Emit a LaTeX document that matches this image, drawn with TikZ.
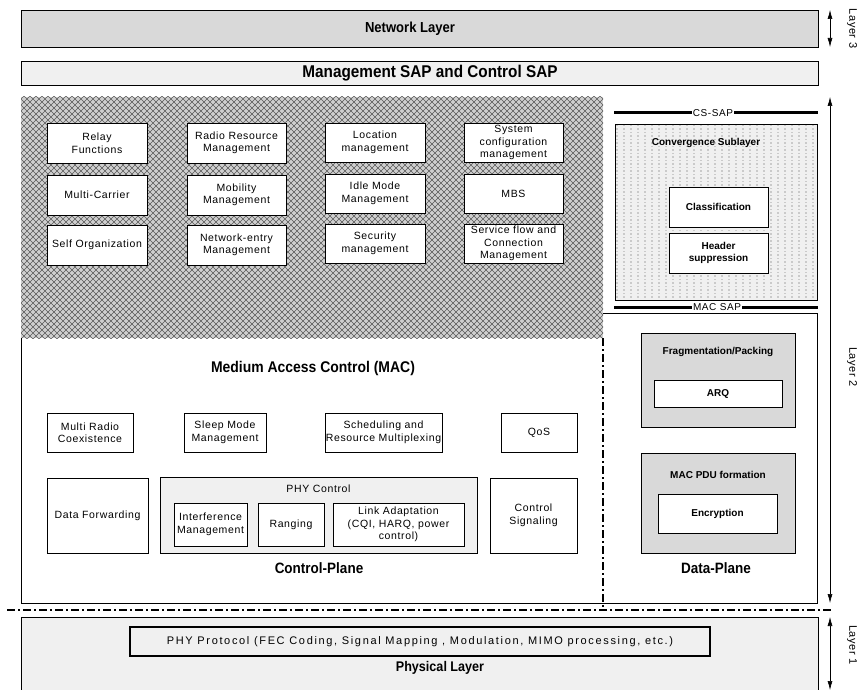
\documentclass[tikz,border=0pt]{standalone}
\usepackage{fontspec}
\setmainfont{Liberation Sans}
\newfontfamily\narrowfont{Liberation Sans}[FakeStretch=0.9]
\newfontfamily\widefont{Liberation Sans}[LetterSpace=6]
\newfontfamily\widerfont{Liberation Sans}[LetterSpace=15]
\usepackage{tikz}
\usetikzlibrary{arrows.meta,patterns}

\definecolor{boxgray}{HTML}{D9D9D9}
\definecolor{palegray}{HTML}{F0F0F0}
\definecolor{hatchgray}{HTML}{CFCFCF}

% diamond hatching of the management part, dots of the CS
\pgfdeclarepatternformonly{diamonds}{\pgfqpoint{-0.5pt}{-0.5pt}}{\pgfqpoint{6.5pt}{6.5pt}}{\pgfqpoint{6pt}{6pt}}{
  \pgfsetlinewidth{0.6pt}
  \pgfpathmoveto{\pgfqpoint{0pt}{0pt}}\pgfpathlineto{\pgfqpoint{6pt}{6pt}}
  \pgfpathmoveto{\pgfqpoint{0pt}{6pt}}\pgfpathlineto{\pgfqpoint{6pt}{0pt}}
  \pgfusepath{stroke}}
\pgfdeclarepatternformonly{csdots}{\pgfqpoint{-1pt}{-1pt}}{\pgfqpoint{8pt}{8pt}}{\pgfqpoint{7pt}{7pt}}{
  \pgfpathcircle{\pgfqpoint{1pt}{1pt}}{0.65pt}
  \pgfpathcircle{\pgfqpoint{1pt}{4.5pt}}{0.45pt}
  \pgfusepath{fill}}

\tikzset{
  func/.style={draw, fill=white, align=center, inner sep=0pt, line width=0.7pt,
    font=\widefont\fontsize{10.5}{12.5}\selectfont},
  strong/.style={draw, fill=white, align=center, inner sep=0pt, line width=0.7pt,
    font=\fontsize{10}{12}\selectfont\bfseries},
  band/.style={draw, inner sep=0pt, line width=0.8pt},
  title/.style={font=\narrowfont\fontsize{15}{17}\selectfont\bfseries},
  hatched/.style={preaction={fill=hatchgray}, pattern=diamonds, pattern color=black!65, inner sep=0pt},
  csbox/.style={draw, preaction={fill=palegray}, pattern=csdots, pattern color=black!70, inner sep=0pt, line width=0.7pt},
  saprule/.style={line width=3pt},
  saplabel/.style={fill=white, inner sep=1pt, font=\widefont\fontsize{10}{12}\selectfont},
  split/.style={line width=1.5pt, dash pattern=on 8pt off 3pt on 2pt off 3pt},
  layerarrow/.style={{Latex[length=9pt,width=5pt]}-{Latex[length=9pt,width=5pt]}, line width=0.6pt},
  layerlabel/.style={rotate=-90, font=\widefont\fontsize{11}{13}\selectfont}
}

\begin{document}
\begin{tikzpicture}[x=1pt,y=-1pt,line width=0.8pt]
\useasboundingbox (0,0) rectangle (860,690);

% Layer 3
\node[band, fill=boxgray, minimum width=797pt, minimum height=37pt] (net) at (419.5,28.5) {};
\node[title, font=\narrowfont\fontsize{14.5}{16}\selectfont\bfseries] (netlabel) at (410,28.5) {Network Layer};
\node[band, fill=palegray, minimum width=797pt, minimum height=24pt] (mgmtsap) at (419.5,73) {};
\node[title, font=\narrowfont\fontsize{17}{19}\selectfont\bfseries] (mgmtlabel) at (430,73) {Management SAP and Control SAP};

% management functions
\node[hatched, minimum width=582pt, minimum height=241pt] (mgmt) at (312,217.5) {};
\node[func, minimum width=100pt, minimum height=40pt] (relay) at (97,143) {Relay\\Functions};
\node[func, minimum width=100pt, minimum height=40pt] (carrier) at (97,195) {Multi-Carrier};
\node[func, minimum width=100pt, minimum height=40pt] (selforg) at (97,245) {Self Organization};
\node[func, minimum width=99pt, minimum height=40pt] (rrm) at (236.5,143) {Radio Resource\\Management};
\node[func, minimum width=99pt, minimum height=40pt] (mobility) at (236.5,195) {Mobility\\Management};
\node[func, minimum width=99pt, minimum height=40pt] (netentry) at (236.5,245) {Network-entry\\Management};
\node[func, minimum width=100pt, minimum height=39pt] (location) at (375,142.5) {Location\\management};
\node[func, minimum width=100pt, minimum height=39pt] (idle) at (375,193.5) {Idle Mode\\Management};
\node[func, minimum width=100pt, minimum height=39pt] (security) at (375,243.5) {Security\\management};
\node[func, minimum width=99pt, minimum height=39pt] (sysconf) at (513.5,142.5) {System\\configuration\\management};
\node[func, minimum width=99pt, minimum height=39pt] (mbs) at (513.5,193.5) {MBS};
\node[func, minimum width=99pt, minimum height=39pt] (sflow) at (513.5,243.5) {Service flow and\\Connection\\Management};

% convergence sublayer
\coordinate (cssapW) at (614,113);
\coordinate (cssapE) at (818,113);
\draw[saprule] (cssapW) -- (cssapE);
\node[saplabel] (cssap) at (713,113) {CS-SAP};
\node[csbox, minimum width=202pt, minimum height=176pt] (cs) at (716,212) {};
\node[font=\fontsize{10}{12}\selectfont\bfseries] (cslabel) at (706,143) {Convergence Sublayer};
\node[strong, minimum width=99pt, minimum height=40pt] (classif) at (718.5,207) {Classification};
\node[strong, minimum width=99pt, minimum height=40pt] (header) at (718.5,253) {Header\\suppression};
\coordinate (macsapW) at (614,307);
\coordinate (macsapE) at (818,307);
\draw[saprule] (macsapW) -- (macsapE);
\node[saplabel] (macsap) at (717,307) {MAC SAP};

% MAC outline and plane split
\coordinate (macNW) at (21,338);
\coordinate (macSW) at (21,603);
\coordinate (macSE) at (817,603);
\coordinate (macNE) at (817,313);
\coordinate (dpNW) at (603,313);
\draw (macNW) -- (macSW) -- (macSE) -- (macNE) -- (dpNW);
\coordinate (splitT) at (603,338);
\coordinate (splitB) at (603,610);
\draw[split] (splitT) -- (splitB);
\node[title, font=\narrowfont\fontsize{15.5}{17}\selectfont\bfseries] (maclabel) at (313,368) {Medium Access Control (MAC)};

% control plane
\node[func, minimum width=86pt, minimum height=39pt] (multiradio) at (90,432.5) {Multi Radio\\Coexistence};
\node[func, minimum width=82pt, minimum height=39pt] (sleep) at (225,432.5) {Sleep Mode\\Management};
\node[func, minimum width=117pt, minimum height=39pt] (sched) at (383.5,432.5) {Scheduling and\\Resource Multiplexing};
\node[func, minimum width=76pt, minimum height=39pt] (qos) at (539,432.5) {QoS};
\node[func, minimum width=101pt, minimum height=75pt] (datafwd) at (97.5,515.5) {Data Forwarding};
\node[func, fill=palegray, minimum width=317pt, minimum height=76pt] (phyctrl) at (318.5,515) {};
\node[font=\widefont\fontsize{10.5}{12.5}\selectfont] (phyctrllabel) at (318.5,489) {PHY Control};
\node[func, minimum width=73pt, minimum height=43pt] (interf) at (210.5,524.5) {Interference\\Management};
\node[func, minimum width=66pt, minimum height=43pt] (ranging) at (291,524.5) {Ranging};
\node[func, minimum width=131pt, minimum height=43pt] (linkad) at (398.5,524.5) {Link Adaptation\\(CQI, HARQ, power\\control)};
\node[func, minimum width=87pt, minimum height=75pt] (ctrlsig) at (533.5,515.5) {Control\\Signaling};
\node[title] (cplabel) at (319,568) {Control-Plane};

% data plane
\node[band, fill=boxgray, line width=0.7pt, minimum width=154pt, minimum height=94pt] (frag) at (718,380) {};
\node[font=\fontsize{10}{12}\selectfont\bfseries] (fraglabel) at (718,352) {Fragmentation/Packing};
\node[strong, minimum width=128pt, minimum height=27pt] (arq) at (718,393.5) {ARQ};
\node[band, fill=boxgray, line width=0.7pt, minimum width=154pt, minimum height=100pt] (pdu) at (718,503) {};
\node[font=\fontsize{10}{12}\selectfont\bfseries] (pdulabel) at (718,475) {MAC PDU formation};
\node[strong, minimum width=119pt, minimum height=39pt] (encrypt) at (717.5,513.5) {Encryption};
\node[title] (dplabel) at (716,568) {Data-Plane};

% layer split
\coordinate (layersplitW) at (7,610);
\coordinate (layersplitE) at (832,610);
\draw[split] (layersplitW) -- (layersplitE);

% physical layer
\node[band, fill=palegray, minimum width=797pt, minimum height=74pt] (phys) at (419.5,654) {};
\node[draw, line width=2pt, fill=palegray, minimum width=580pt, minimum height=29pt, inner sep=0pt,
  font=\widerfont\fontsize{11}{13}\selectfont] (phyproto) at (420,641.5) {PHY Protocol (FEC Coding, Signal Mapping , Modulation, MIMO processing, etc.)};
\node[title, font=\narrowfont\fontsize{14}{16}\selectfont\bfseries] (physlabel) at (440,668) {Physical Layer};

% layer arrows
\coordinate (l3top) at (830,10);
\coordinate (l3bot) at (830,47);
\draw[layerarrow] (l3top) -- (l3bot);
\node[layerlabel] (layer3) at (852,28.5) {Layer 3};
\coordinate (l2top) at (830,97);
\coordinate (l2bot) at (830,603);
\draw[layerarrow] (l2top) -- (l2bot);
\node[layerlabel] (layer2) at (852,367) {Layer 2};
\coordinate (l1top) at (830,617);
\coordinate (l1bot) at (830,690);
\draw[layerarrow] (l1top) -- (l1bot);
\node[layerlabel] (layer1) at (852,645) {Layer 1};

\end{tikzpicture}
\end{document}
